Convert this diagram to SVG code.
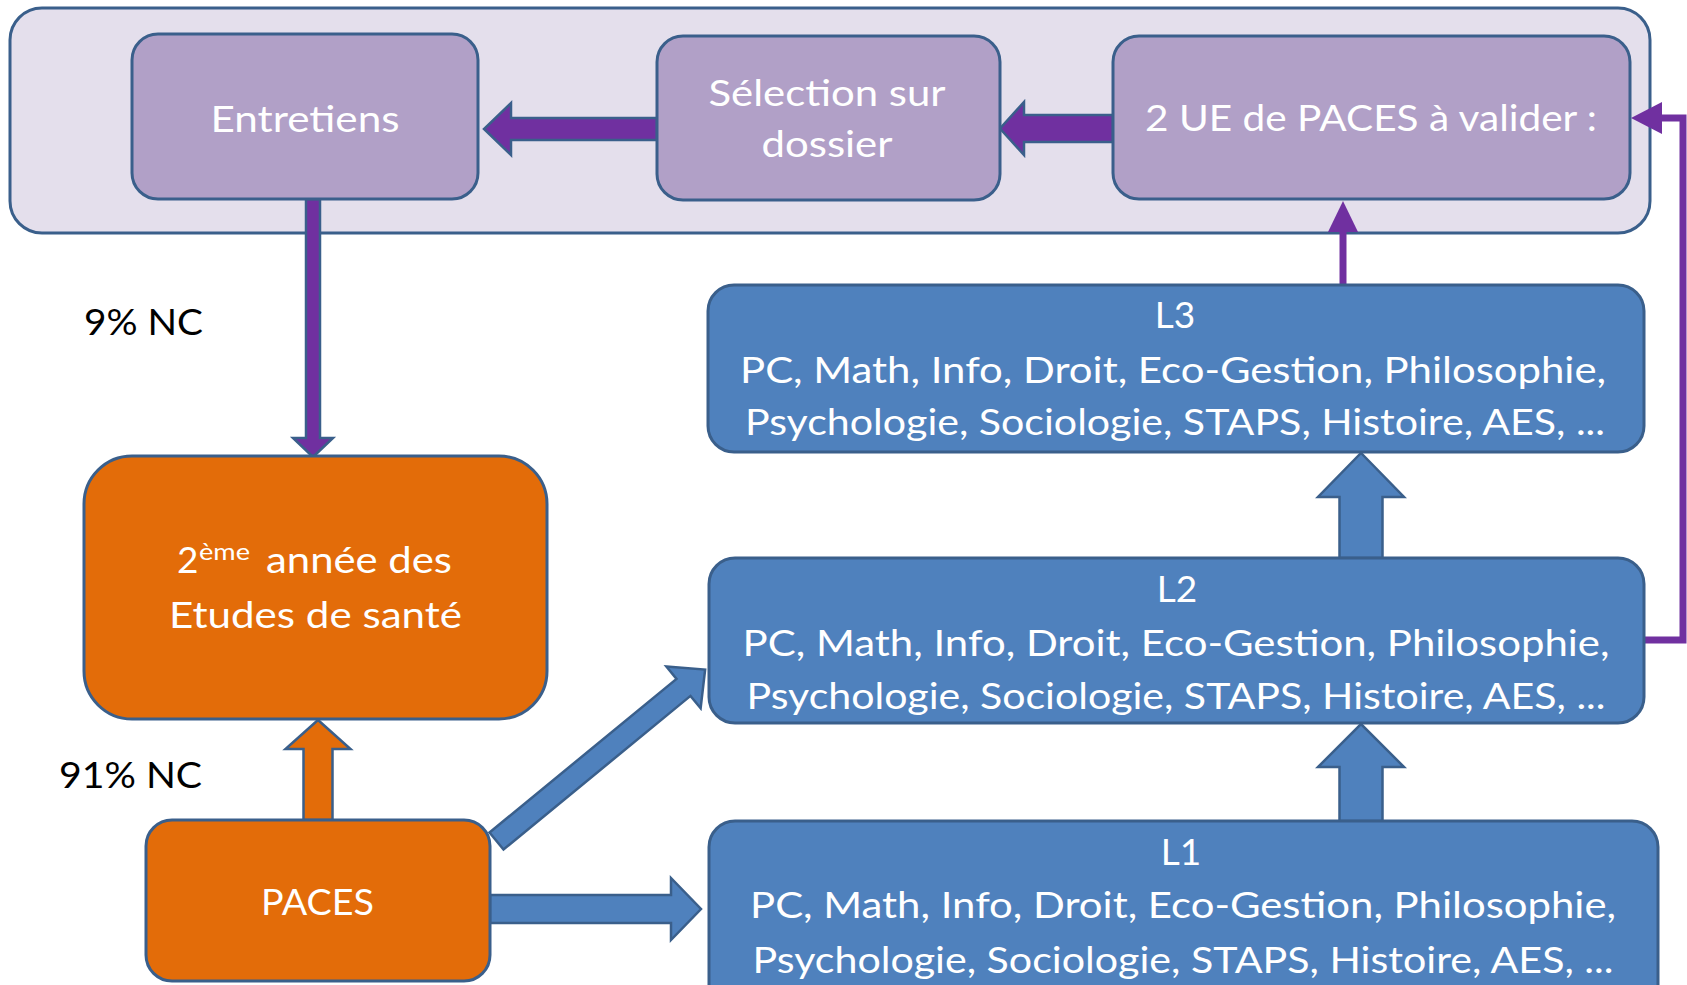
<svg xmlns="http://www.w3.org/2000/svg" width="1687" height="985" viewBox="0 0 1687 985">
<style>
.box{stroke:#3a5f8b;stroke-width:3}
.outer{fill:#e4dfec}
.pur{fill:#b1a0c7}
.blue{fill:#4f81bd}
.org{fill:#e36c09}
.t{font-family:Lato,"Open Sans","Liberation Sans",sans-serif;font-size:37px;fill:#ffffff}
.lbl{font-family:Lato,"Open Sans","Liberation Sans",sans-serif;font-size:37px;fill:#000000}
.pa{fill:#7030a0;stroke:#3a5f8b;stroke-width:2.5}
.pl{fill:none;stroke:#7030a0;stroke-width:7}
.ph{fill:#7030a0}
.ba{fill:#4f81bd;stroke:#3a5f8b;stroke-width:2.5}
.oa{fill:#e36c09;stroke:#3a5f8b;stroke-width:2.5}
</style>
<rect width="1687" height="985" fill="#ffffff"/>
<g id="container">
<rect class="box outer" x="10" y="8" width="1640" height="225" rx="32"/>
</g>
<g id="connectors">
<path class="pa" d="M657,118 L511,118 L511,103 L484,129 L511,155 L511,140 L657,140 Z"/>
<path class="pa" d="M1113,115 L1024,115 L1024,102 L1000,128.5 L1024,155 L1024,142 L1113,142 Z"/>
<path class="pa" d="M306,199 L306,438 L293,438 L313,457 L333,438 L320,438 L320,199 Z"/>
<line class="pl" x1="1343" y1="285" x2="1343" y2="230"/>
<path class="ph" d="M1328,232 L1343,201 L1358,232 Z"/>
<polyline class="pl" points="1644,640 1683,640 1683,118 1660,118"/>
<path class="ph" d="M1662,102 L1631,118 L1662,134 Z"/>
<path class="ba" d="M1339.5,558 L1339.5,497 L1318,497 L1361,453 L1404,497 L1382.5,497 L1382.5,558 Z"/>
<path class="ba" d="M1339.5,821 L1339.5,767 L1318,767 L1361,724 L1404,767 L1382.5,767 L1382.5,821 Z"/>
<path class="oa" d="M303.5,820 L303.5,749 L285.5,749 L318,720 L350.5,749 L332.5,749 L332.5,820 Z"/>
<path class="ba" d="M490,895 L671,895 L671,878 L701,909 L671,940 L671,923 L490,923 Z"/>
<path class="ba" transform="translate(496.5,841) rotate(-39.4)" d="M0,-11 L242,-11 L242,-27 L270,0 L242,27 L242,11 L0,11 Z"/>
</g>
<g id="entretiens">
<rect class="box pur" x="132" y="34" width="346" height="165" rx="26"/>
<text class="t" x="305" y="132" text-anchor="middle" textLength="189" lengthAdjust="spacingAndGlyphs">Entretiens</text>
</g>
<g id="selection">
<rect class="box pur" x="657" y="36" width="343" height="164" rx="26"/>
<text class="t" x="827" y="106" text-anchor="middle" textLength="237" lengthAdjust="spacingAndGlyphs">Sélection sur</text>
<text class="t" x="827" y="157" text-anchor="middle" textLength="131" lengthAdjust="spacingAndGlyphs">dossier</text>
</g>
<g id="ue">
<rect class="box pur" x="1113" y="36" width="517" height="163" rx="26"/>
<text class="t" x="1371" y="131" text-anchor="middle" textLength="452" lengthAdjust="spacingAndGlyphs">2 UE de PACES à valider :</text>
</g>
<g id="l3">
<rect class="box blue" x="708" y="285" width="936" height="167" rx="26"/>
<text class="t" x="1175" y="328" text-anchor="middle">L3</text>
<text class="t" x="1173" y="383" text-anchor="middle" textLength="866" lengthAdjust="spacingAndGlyphs">PC, Math, Info, Droit, Eco-Gestion, Philosophie,</text>
<text class="t" x="1175" y="435" text-anchor="middle" textLength="860" lengthAdjust="spacingAndGlyphs">Psychologie, Sociologie, STAPS, Histoire, AES, ...</text>
</g>
<g id="l2">
<rect class="box blue" x="709" y="558" width="935" height="165" rx="26"/>
<text class="t" x="1177" y="602" text-anchor="middle">L2</text>
<text class="t" x="1176" y="656" text-anchor="middle" textLength="867" lengthAdjust="spacingAndGlyphs">PC, Math, Info, Droit, Eco-Gestion, Philosophie,</text>
<text class="t" x="1176" y="709" text-anchor="middle" textLength="859" lengthAdjust="spacingAndGlyphs">Psychologie, Sociologie, STAPS, Histoire, AES, ...</text>
</g>
<g id="l1">
<rect class="box blue" x="709" y="821" width="949" height="190" rx="26"/>
<text class="t" x="1181" y="865" text-anchor="middle">L1</text>
<text class="t" x="1183" y="918" text-anchor="middle" textLength="866" lengthAdjust="spacingAndGlyphs">PC, Math, Info, Droit, Eco-Gestion, Philosophie,</text>
<text class="t" x="1183" y="973" text-anchor="middle" textLength="861" lengthAdjust="spacingAndGlyphs">Psychologie, Sociologie, STAPS, Histoire, AES, ...</text>
</g>
<g id="annee2">
<rect class="box org" x="84" y="456" width="463" height="263" rx="48"/>
<text class="t" x="177" y="573">2</text>
<text class="t" x="199" y="560" style="font-size:24px" textLength="51" lengthAdjust="spacingAndGlyphs">ème</text>
<text class="t" x="266" y="573" textLength="186" lengthAdjust="spacingAndGlyphs">année des</text>
<text class="t" x="315.5" y="628" text-anchor="middle" textLength="293" lengthAdjust="spacingAndGlyphs">Etudes de santé</text>
</g>
<g id="paces">
<rect class="box org" x="146" y="820" width="344" height="161" rx="26"/>
<text class="t" x="317.5" y="915" text-anchor="middle" textLength="113" lengthAdjust="spacingAndGlyphs">PACES</text>
</g>
<g id="labels">
<text class="lbl" x="84" y="335" textLength="119" lengthAdjust="spacingAndGlyphs">9% NC</text>
<text class="lbl" x="59" y="788" textLength="143" lengthAdjust="spacingAndGlyphs">91% NC</text>
</g>
</svg>
